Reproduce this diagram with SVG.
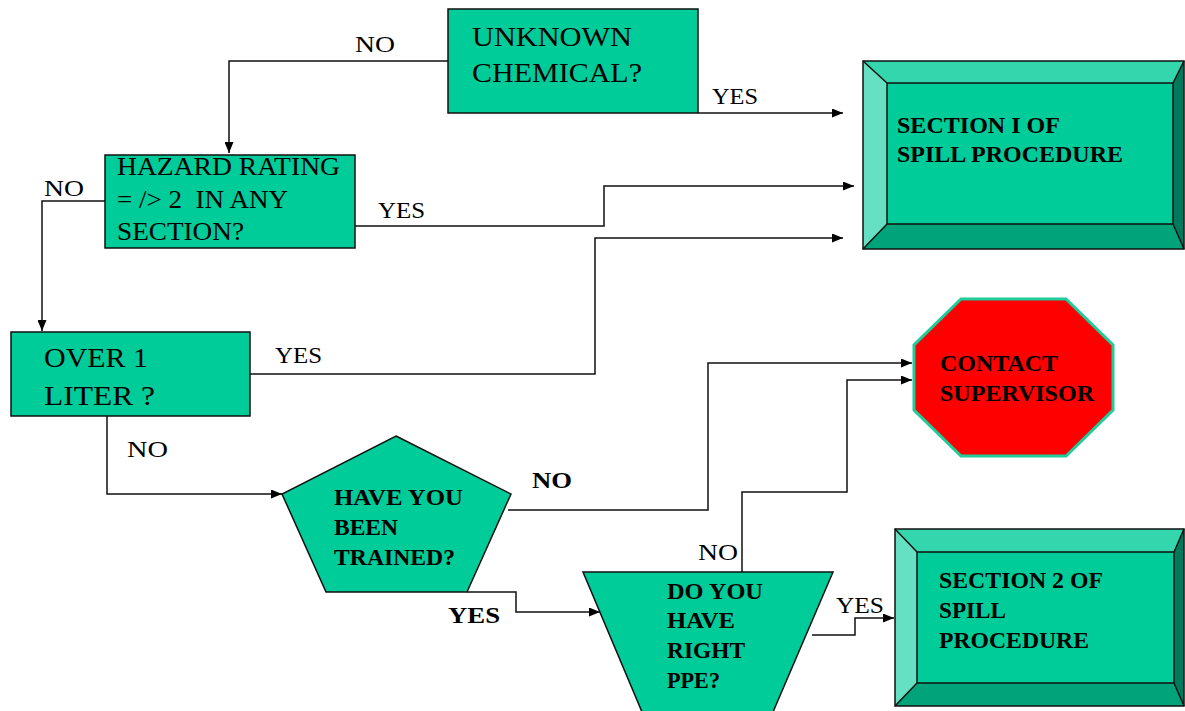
<svg xmlns="http://www.w3.org/2000/svg" width="1185" height="711" viewBox="0 0 1185 711">
<style>
.box{fill:#00CC99;stroke:#111;stroke-width:1.5}
text{font-family:'Liberation Serif','DejaVu Serif Condensed','DejaVu Serif',serif;fill:#000}
.b{font-weight:bold}
.lbl{font-size:24px}
.edge{fill:none;stroke:#111;stroke-width:1.5}
.bt{fill:#33D6AD}.bl{fill:#66E0C2}.bb{fill:#00A37A}.br{fill:#007A5C}
.ol{fill:none;stroke:#111;stroke-width:1.5}
</style>
<defs>
<marker id="ah" markerUnits="userSpaceOnUse" markerWidth="11" markerHeight="9" refX="11" refY="4.5" orient="auto">
<path d="M0,0 L11,4.5 L0,9 z" fill="#000"/>
</marker>
</defs>
<rect width="1185" height="711" fill="#fff"/>

<g id="connectors">
<polyline class="edge" points="448,61 229,61 229,153" marker-end="url(#ah)"/>
<text class="lbl" x="355" y="52" textLength="40" lengthAdjust="spacingAndGlyphs">NO</text>
<polyline class="edge" points="698,113 843,113" marker-end="url(#ah)"/>
<text class="lbl" x="712" y="104" textLength="46" lengthAdjust="spacingAndGlyphs">YES</text>
<polyline class="edge" points="105,201 42,201 42,331" marker-end="url(#ah)"/>
<text class="lbl" x="44" y="196" textLength="40" lengthAdjust="spacingAndGlyphs">NO</text>
<polyline class="edge" points="355,226 604,226 604,186 854,186" marker-end="url(#ah)"/>
<text class="lbl" x="378" y="218" textLength="47" lengthAdjust="spacingAndGlyphs">YES</text>
<polyline class="edge" points="250,374 595,374 595,238 843,238" marker-end="url(#ah)"/>
<text class="lbl" x="275" y="363" textLength="47" lengthAdjust="spacingAndGlyphs">YES</text>
<polyline class="edge" points="107,416 107,494 282,494" marker-end="url(#ah)"/>
<text class="lbl" x="127" y="457" textLength="41" lengthAdjust="spacingAndGlyphs">NO</text>
<polyline class="edge" points="508,510 708,510 708,363 912,363" marker-end="url(#ah)"/>
<text class="lbl b" x="532" y="488" textLength="40" lengthAdjust="spacingAndGlyphs">NO</text>
<polyline class="edge" points="467,592 516,592 516,612 600,612" marker-end="url(#ah)"/>
<text class="lbl b" x="448" y="623" textLength="52" lengthAdjust="spacingAndGlyphs">YES</text>
<polyline class="edge" points="742,572 742,492 847,492 847,380 912,380" marker-end="url(#ah)"/>
<text class="lbl" x="698" y="560" textLength="40" lengthAdjust="spacingAndGlyphs">NO</text>
<polyline class="edge" points="812,635 855,635 855,618 894,618" marker-end="url(#ah)"/>
<text class="lbl" x="836" y="613" textLength="48" lengthAdjust="spacingAndGlyphs">YES</text>
</g>

<g id="unknown">
<rect class="box" x="448" y="9" width="250" height="104"/>
<text x="472" y="46" font-size="28" textLength="160" lengthAdjust="spacingAndGlyphs">UNKNOWN</text>
<text x="472" y="82" font-size="28" textLength="170" lengthAdjust="spacingAndGlyphs">CHEMICAL?</text>
</g>

<g id="hazard">
<rect class="box" x="105" y="155" width="250" height="93"/>
<text x="117" y="175" font-size="25" textLength="223" lengthAdjust="spacingAndGlyphs">HAZARD RATING</text>
<text x="117" y="208" font-size="25" xml:space="preserve" textLength="171" lengthAdjust="spacingAndGlyphs">= /&gt; 2  IN ANY</text>
<text x="117" y="240" font-size="25" textLength="127" lengthAdjust="spacingAndGlyphs">SECTION?</text>
</g>

<g id="over">
<rect class="box" x="11" y="332" width="239" height="84"/>
<text x="44" y="367" font-size="28" textLength="104" lengthAdjust="spacingAndGlyphs">OVER 1</text>
<text x="44" y="405" font-size="28" textLength="111" lengthAdjust="spacingAndGlyphs">LITER ?</text>
</g>

<g id="section1">
<polygon class="bt" points="863,61 1184,61 1173,83 887,83"/>
<polygon class="bl" points="863,61 887,83 887,224 863,249"/>
<polygon class="bb" points="863,249 887,224 1173,224 1184,249"/>
<polygon class="br" points="1184,61 1184,249 1173,224 1173,83"/>
<rect x="887" y="83" width="286" height="141" fill="#00CC99"/>
<rect class="ol" x="863" y="61" width="321" height="188"/>
<rect class="ol" x="887" y="83" width="286" height="141"/>
<path class="ol" d="M863,61 L887,83 M1184,61 L1173,83 M863,249 L887,224 M1184,249 L1173,224"/>
<text class="b" x="897" y="133" font-size="23" textLength="163" lengthAdjust="spacingAndGlyphs">SECTION I OF</text>
<text class="b" x="897" y="162" font-size="23" textLength="226" lengthAdjust="spacingAndGlyphs">SPILL PROCEDURE</text>
</g>

<g id="contact">
<polygon points="961,299 1066,299 1113,345 1113,410 1066,456 961,456 914,410 914,345" fill="#FF0000" stroke="#1FCC9A" stroke-width="3"/>
<text class="b" x="940" y="371" font-size="23" textLength="118" lengthAdjust="spacingAndGlyphs">CONTACT</text>
<text class="b" x="940" y="401" font-size="23" textLength="154" lengthAdjust="spacingAndGlyphs">SUPERVISOR</text>
</g>

<g id="trained">
<polygon class="box" points="396,436 511,494 467,592 326,592 282,494"/>
<text class="b" x="334" y="505" font-size="24" textLength="129" lengthAdjust="spacingAndGlyphs">HAVE YOU</text>
<text class="b" x="334" y="535" font-size="24" textLength="64" lengthAdjust="spacingAndGlyphs">BEEN</text>
<text class="b" x="334" y="565" font-size="24" textLength="121" lengthAdjust="spacingAndGlyphs">TRAINED?</text>
</g>

<g id="ppe">
<polygon class="box" points="583,572 833,572 773,712 642,712"/>
<text class="b" x="667" y="599" font-size="24" textLength="96" lengthAdjust="spacingAndGlyphs">DO YOU</text>
<text class="b" x="667" y="628" font-size="24" textLength="68" lengthAdjust="spacingAndGlyphs">HAVE</text>
<text class="b" x="667" y="658" font-size="24" textLength="78" lengthAdjust="spacingAndGlyphs">RIGHT</text>
<text class="b" x="667" y="688" font-size="24" textLength="53" lengthAdjust="spacingAndGlyphs">PPE?</text>
</g>

<g id="section2">
<polygon class="bt" points="895,529 1184,529 1174,552 917,552"/>
<polygon class="bl" points="895,529 917,552 917,683 895,706"/>
<polygon class="bb" points="895,706 917,683 1174,683 1184,706"/>
<polygon class="br" points="1184,529 1184,706 1174,683 1174,552"/>
<rect x="917" y="552" width="257" height="131" fill="#00CC99"/>
<rect class="ol" x="895" y="529" width="289" height="177"/>
<rect class="ol" x="917" y="552" width="257" height="131"/>
<path class="ol" d="M895,529 L917,552 M1184,529 L1174,552 M895,706 L917,683 M1184,706 L1174,683"/>
<text class="b" x="939" y="588" font-size="23" textLength="164" lengthAdjust="spacingAndGlyphs">SECTION 2 OF</text>
<text class="b" x="939" y="618" font-size="23" textLength="67" lengthAdjust="spacingAndGlyphs">SPILL</text>
<text class="b" x="939" y="648" font-size="23" textLength="150" lengthAdjust="spacingAndGlyphs">PROCEDURE</text>
</g>
</svg>
